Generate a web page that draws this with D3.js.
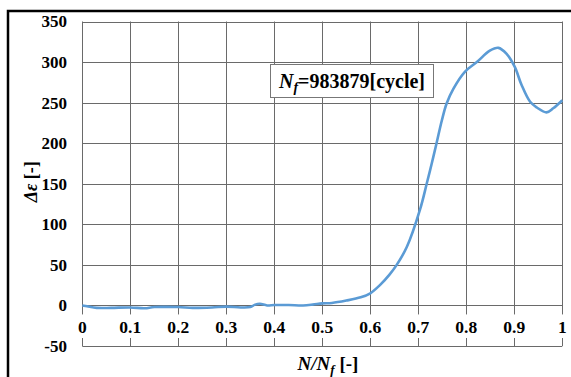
<!DOCTYPE html>
<html><head><meta charset="utf-8">
<script src="https://cdn.jsdelivr.net/npm/d3@7"></script>
<style>body{margin:0;background:#fff}svg{display:block}
svg text{font-family:"Liberation Serif","DejaVu Serif","Noto Serif","Times New Roman",serif;font-weight:bold}</style>
</head><body>
<script>
const xVals = [0,0.01,0.03,0.06,0.1,0.13,0.15,0.2,0.23,0.27,0.3,0.33,0.35,0.36,0.37,0.385,0.4,0.43,0.46,0.48,0.5,0.52,0.55,0.58,0.6,0.62,0.64,0.655,0.676,0.704,0.7175,0.728,0.738,0.749,0.759,0.773,0.797,0.822,0.849,0.867,0.884,0.901,0.915,0.933,0.947,0.967,0.981,1.0];
const yVals = [0,-1,-3,-3,-2.5,-3.5,-2,-2,-3,-2.5,-1.5,-2.5,-2,1,2,0,0.5,0.5,0,1,2.5,3,6,10,15,25,38,50,72,119,150,175,200,228,249,267,288,300,314,317.5,310,294,272,251,244,238,243,253];
const xTicks = [0,0.1,0.2,0.3,0.4,0.5,0.6,0.7,0.8,0.9,1];
const yTicks = [-50,0,50,100,150,200,250,300,350];
const annotation = "983879";

const W=571,H=377;
const svg=d3.select("body").append("svg").attr("width",W).attr("height",H);
svg.append("rect").attr("x",8).attr("y",11).attr("width",620).attr("height",420)
  .attr("fill","none").attr("stroke","#000").attr("stroke-width",2.5);

const x=d3.scaleLinear().domain([0,1]).range([82.3,562.3]);
const y=d3.scaleLinear().domain([-50,350]).range([346,21.5]);
const g=svg.append("g");
const gc="#6a6a6a";
g.selectAll("line.h").data(yTicks.filter(v=>v>=0)).join("line")
  .attr("x1",x(0)).attr("x2",x(1)).attr("y1",d=>Math.round(y(d))+0.5).attr("y2",d=>Math.round(y(d))+0.5)
  .attr("stroke",gc).attr("stroke-width",1);
g.selectAll("line.v").data(xTicks).join("line")
  .attr("x1",d=>Math.round(x(d))+0.5).attr("x2",d=>Math.round(x(d))+0.5)
  .attr("y1",y(350)).attr("y2",y(0)+9)
  .attr("stroke",gc).attr("stroke-width",1);
g.append("line").attr("x1",x(0)).attr("x2",x(1)).attr("y1",Math.round(y(-50))+0.5).attr("y2",Math.round(y(-50))+0.5)
  .attr("stroke",gc).attr("stroke-width",1);
g.selectAll("line.t").data(xTicks).join("line")
  .attr("x1",d=>Math.round(x(d))+0.5).attr("x2",d=>Math.round(x(d))+0.5)
  .attr("y1",y(-50)-8).attr("y2",y(-50))
  .attr("stroke",gc).attr("stroke-width",1);

svg.selectAll("text.yt").data(yTicks).join("text")
  .attr("x",67).attr("y",d=>y(d)).attr("dy","0.35em").attr("text-anchor","end")
  .attr("font-size",17)
  .text(d=>d);
svg.selectAll("text.xt").data(xTicks).join("text")
  .attr("x",d=>x(d)).attr("y",332.5).attr("text-anchor","middle")
  .attr("font-size",17.5)
  .text(d=>d3.format("")(d));

const pts=xVals.map((v,i)=>[v,yVals[i]]);
svg.append("path").datum(pts)
  .attr("d",d3.line().x(d=>x(d[0])).y(d=>y(d[1])).curve(d3.curveCatmullRom.alpha(0.5)))
  .attr("fill","none").attr("stroke","#5B9BD5").attr("stroke-width",2.6).attr("stroke-linejoin","round");

const yt=svg.append("text").attr("transform","translate(37,"+((y(350)+y(-50))/2-2)+") rotate(-90)")
  .attr("text-anchor","middle").attr("font-size",18);
yt.append("tspan").attr("font-style","italic").text("Δε");
yt.append("tspan").text(" [-]");

const xt=svg.append("text").attr("x",328).attr("y",370).attr("text-anchor","middle")
  .attr("font-size",19);
xt.append("tspan").attr("font-style","italic").text("N/N");
xt.append("tspan").attr("font-style","italic").attr("font-size",13).attr("dy",4).text("f");
xt.append("tspan").attr("dy",-4).text(" [-]");

svg.append("rect").attr("x",270.5).attr("y",64.5).attr("width",163).attr("height",33)
  .attr("fill","#fff").attr("stroke","#777").attr("stroke-width",1);
const at=svg.append("text").attr("x",352).attr("y",88).attr("text-anchor","middle")
  .attr("font-size",20);
at.append("tspan").attr("font-style","italic").text("N");
at.append("tspan").attr("font-style","italic").attr("font-size",14).attr("dy",4).text("f");
at.append("tspan").attr("dy",-4).text("="+annotation+"[cycle]");
</script>
</body></html>
